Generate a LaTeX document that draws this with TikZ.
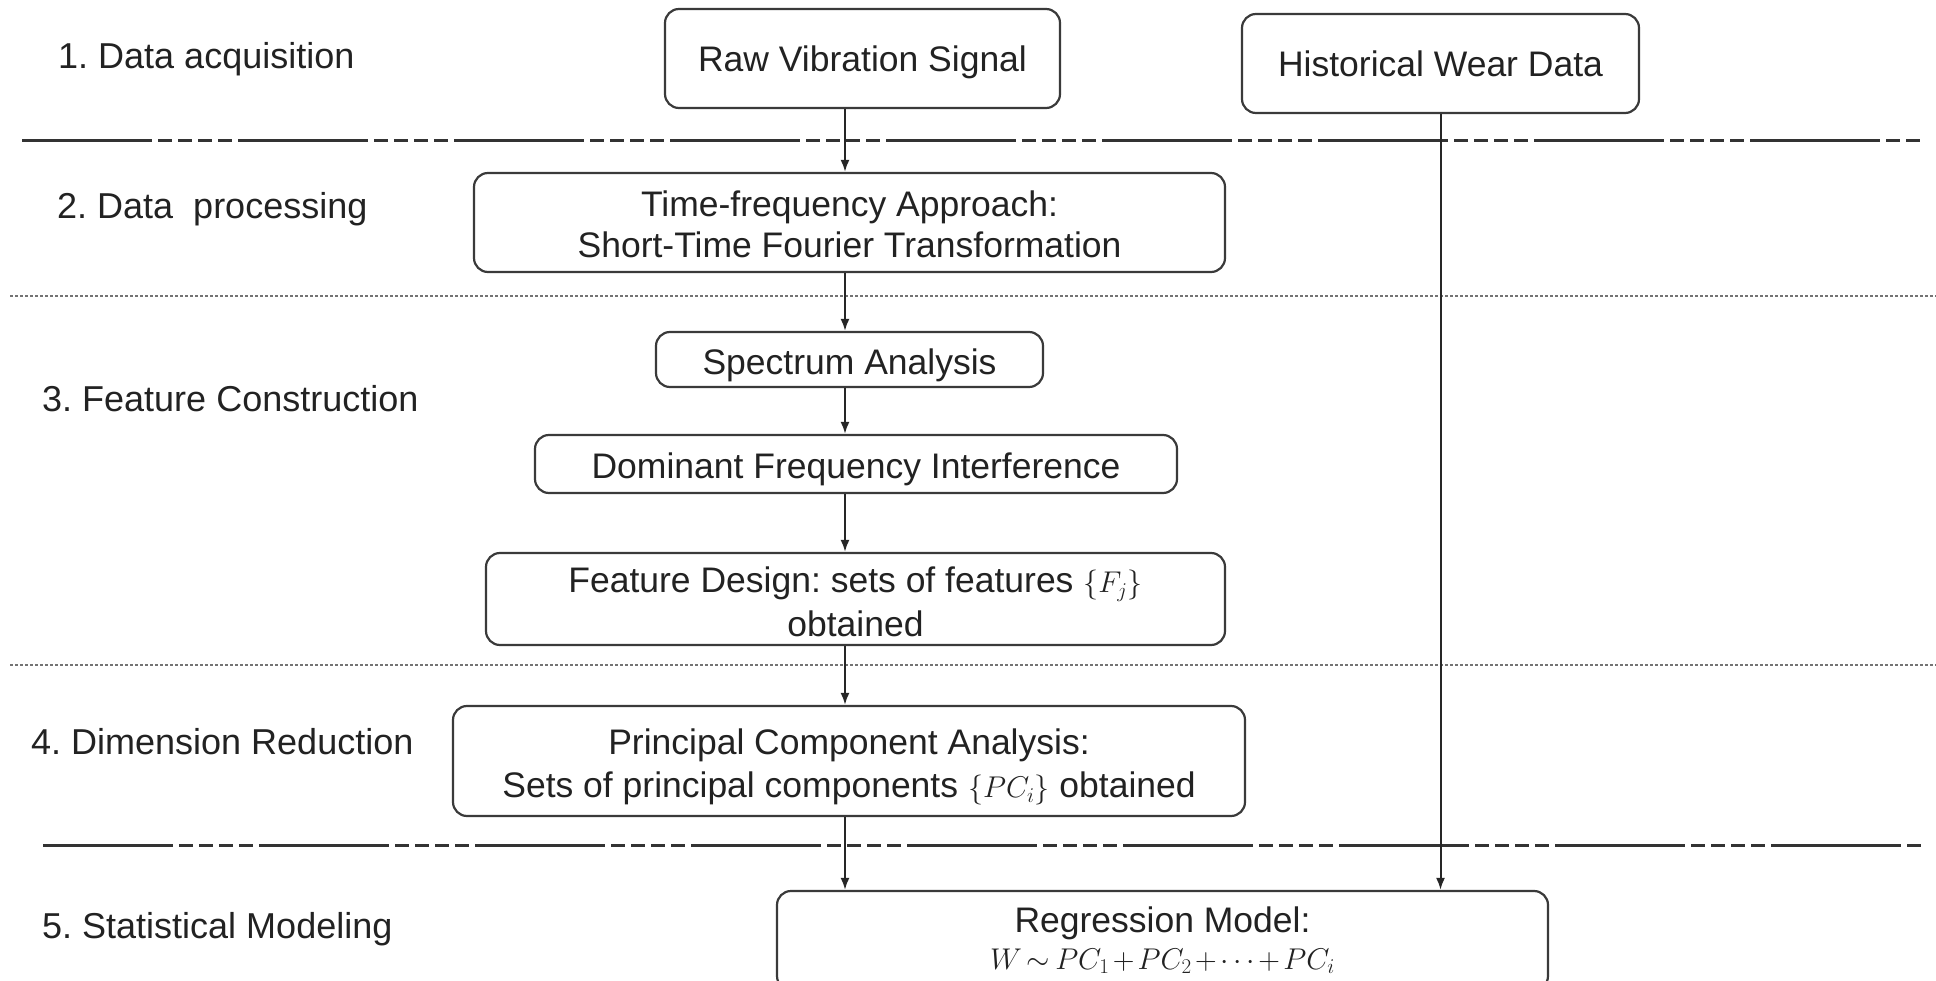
\RequirePackage{fix-cm}
\documentclass[tikz,border=0pt]{standalone}
\usepackage{fontspec}
\setmainfont{Liberation Sans}
\usetikzlibrary{arrows.meta}
\definecolor{txt}{HTML}{222222}
\definecolor{boxline}{HTML}{3A3A3A}
\frenchspacing
\newcommand\mth[1]{{\fontsize{30}{40}\selectfont\thickmuskip=3mu\medmuskip=2mu$#1$}}
\begin{document}
\begin{tikzpicture}[x=1pt,y=-1pt,
  every node/.style={text=txt,font=\fontsize{35.5}{42}\selectfont},
  box/.style={draw=boxline,line width=2.2pt,rounded corners=14pt,inner sep=0pt,align=center},
  lbl/.style={anchor=west,inner sep=0pt,font=\fontsize{36}{42}\selectfont},
  arr/.style={draw=black!85,line width=2pt,-{Latex[length=12pt,width=9pt]}},
  sepdash/.style={draw=black!80,line width=3pt,dash pattern=on 130pt off 6pt on 14pt off 6pt on 14pt off 6pt on 14pt off 6pt on 14pt off 6pt},
  sepdot/.style={draw=black!55,line width=1.6pt,dash pattern=on 3pt off 2pt}]
\useasboundingbox (0,0) rectangle (1936,981);
% separators
\draw[sepdash] (22,141) -- (1926,141);
\draw[sepdot] (10,296) -- (1936,296);
\draw[sepdot] (10,665) -- (1936,665);
\draw[sepdash] (43,845) -- (1926,845);
% stage labels
\node[lbl] (l1) at (58,59.5) {1. Data acquisition};
\node[lbl] (l2) at (57,209) {2. Data\ \ processing};
\node[lbl] (l3) at (42,399) {3. Feature Construction};
\node[lbl] (l4) at (31,742) {4. Dimension Reduction};
\node[lbl] (l5) at (42,929) {5. Statistical Modeling};
% boxes
\node[box,minimum width=395pt,minimum height=99pt,text height=34.5pt,text depth=7.5pt] (raw) at (862.5,58.5) {Raw Vibration Signal};
\node[box,minimum width=397pt,minimum height=99pt,text height=34.5pt,text depth=7.5pt] (hist) at (1440.5,63.5) {Historical Wear Data};
\node[box,minimum width=751pt,minimum height=99pt,text height=77pt,text depth=7.5pt,font=\fontsize{35.5}{40.5}\selectfont] (time) at (849.5,222.5) {Time-frequency Approach:\\Short-Time Fourier Transformation};
\node[box,minimum width=387pt,minimum height=55pt,text height=38pt,text depth=7.5pt] (spec) at (849.5,359.5) {Spectrum Analysis};
\node[box,minimum width=642pt,minimum height=58pt,text height=35.5pt,text depth=7.5pt] (dom) at (856,464) {Dominant Frequency Interference};
\node[box,minimum width=739pt,minimum height=92pt,text height=82pt,text depth=7.5pt,font=\fontsize{35.5}{43.5}\selectfont] (feat) at (855.5,599) {Feature Design: sets of features \mth{\{F_j\}}\\obtained};
\node[box,minimum width=792pt,minimum height=110pt,text height=81pt,text depth=7.5pt,font=\fontsize{35.5}{43}\selectfont] (pca) at (849,761) {Principal Component Analysis:\\Sets of principal components \mth{\{PC_i\}} obtained};
\node[box,minimum width=771pt,minimum height=99pt,text height=64.5pt,text depth=7.5pt,font=\fontsize{35.5}{37}\selectfont] (reg) at (1162.5,940.5) {Regression Model:\\\mth{W\sim PC_1+PC_2+\cdots+PC_i}};
% connectors
\coordinate (axis) at (845,0);
\draw[arr] (raw.south -| axis) -- (time.north -| axis);
\draw[arr] (time.south -| axis) -- (spec.north -| axis);
\draw[arr] (spec.south -| axis) -- (dom.north -| axis);
\draw[arr] (dom.south -| axis) -- (feat.north -| axis);
\draw[arr] (feat.south -| axis) -- (pca.north -| axis);
\draw[arr] (pca.south -| axis) -- (reg.north -| axis);
\draw[arr] (hist.south) -- (hist.south |- reg.north);
\end{tikzpicture}
\end{document}
